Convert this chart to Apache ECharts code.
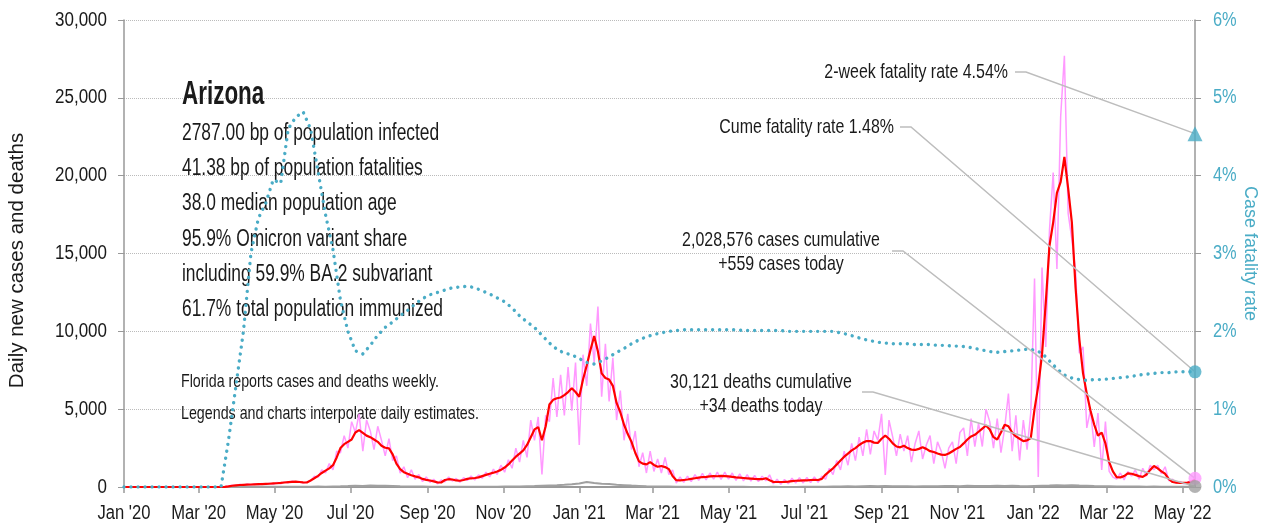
<!DOCTYPE html>
<html>
<head>
<meta charset="utf-8">
<title>Arizona</title>
<script src="https://cdn.jsdelivr.net/npm/echarts@6/dist/echarts.min.js"></script>
<style>
html, body { margin: 0; padding: 0; background: #fff; }
#chart { width: 1268px; height: 527px; }
</style>
</head>
<body>
<div id="chart"></div>
<script>
var FONT = '"Liberation Sans", Arial, sans-serif';
var TEAL = '#4aacc6';
var PINK = '#ff99ff';
var GREY = '#a0a0a0';
var INK = '#1a1a1a';

// x axis, tick every two months
var tickDates = ['2020-01-01', '2020-03-01', '2020-05-01', '2020-07-01', '2020-09-01', '2020-11-01',
    '2021-01-01', '2021-03-01', '2021-05-01', '2021-07-01', '2021-09-01', '2021-11-01',
    '2022-01-01', '2022-03-01', '2022-05-01'];
var monthNames = ['Jan', 'Feb', 'Mar', 'Apr', 'May', 'Jun', 'Jul', 'Aug', 'Sep', 'Oct', 'Nov', 'Dec'];
var caseTicks = [0, 5000, 10000, 15000, 20000, 25000, 30000];
var rateTicks = [0, 1, 2, 3, 4, 5, 6];

var firstDate = '2020-01-01';
var lastDate = '2022-05-11';

// daily new cases, one reading every 3 days from firstDate
var rawCases = [
    0, 0, 0, 0, 0, 0, 0, 0, 0, 0, 0, 0, 0, 0, 0, 0, 0, 0, 0, 0, 0, 0, 0, 0, 0, 0, 0,
    20, 60, 110, 90, 170, 120, 190, 130, 210, 150, 230, 160, 250, 170, 290, 210, 330, 260, 380, 300, 360, 250, 330,
    380, 700, 620, 1100, 900, 1500, 1100, 2300, 2200, 3300,
    2500, 4200, 3500, 4700, 2300, 4300, 3600, 2400, 3900, 3000,
    2000, 3100, 1700, 2000, 900, 1300, 600, 1100, 500, 800,
    350, 650, 300, 500, 200, 450, 330, 650, 380, 550,
    300, 600, 420, 700, 450, 780, 560, 950, 650, 1150,
    800, 1400, 950, 1750, 1200, 2500, 1600, 3000, 1900, 4300,
    3000, 4500, 800, 4600, 4200, 7000, 4500, 7200, 4600, 7700,
    4900, 8000, 2700, 8500, 6500, 10500, 8000, 11600, 5800, 9200,
    5500, 8300, 4300, 6200, 3000, 4700, 2400, 3600, 1300, 2200,
    900, 2300, 1000, 1800, 900, 1900, 800, 1100, 250, 650,
    300, 700, 350, 800, 420, 880, 450, 900, 500, 950,
    480, 950, 500, 900, 420, 850, 400, 800, 380, 750,
    350, 700, 400, 780, 200, 500, 180, 480, 200, 560,
    250, 600, 260, 620, 280, 650, 300, 700, 500, 1200,
    800, 1700, 1100, 2300, 1400, 2800, 1700, 3200, 2000, 3700,
    2100, 3600, 3000, 4700, 770, 4300, 3200, 2000, 3400, 2300,
    3300, 1600, 2800, 3600, 1800, 2700, 3300, 1500, 2900, 2300,
    1200, 2500, 2900, 1500, 3500, 3800, 2000, 4400, 2600, 4100,
    2600, 5000, 4200, 2500, 4400, 2200, 3800, 6000, 2300, 4600,
    1700, 4300, 2400, 4800, 13400, 640, 14100, 9000, 16500, 20200,
    14000, 23800, 27700, 17600, 15900, 13900, 8600, 9000, 3800, 4950,
    2570, 4750, 1090, 4200, 1000, 640, 500, 900, 450, 1000,
    700, 1100, 500, 1200, 700, 1400, 1100, 1400, 850, 1300,
    400, 500, 250, 350, 200, 300, 400, 559
];
// 7-day average of new cases, same dates
var avgCases = [
    0, 0, 0, 0, 0, 0, 0, 0, 0, 0, 0, 0, 0, 0, 0, 0, 0, 0, 0, 0, 0, 0, 0, 0, 0, 0, 0,
    10, 40, 80, 110, 130, 140, 150, 160, 170, 180, 190, 200, 210, 230, 240, 260, 290, 310, 330, 340, 320, 300, 290,
    420, 560, 720, 900, 1050, 1200, 1400, 1900, 2500, 2750,
    2900, 3050, 3500, 3650, 3480, 3300, 3200, 3050, 2900, 2650,
    2520, 2480, 2100, 1500, 1150, 950, 850, 760, 680, 620,
    520, 460, 420, 360, 300, 290, 450, 500, 480, 420,
    400, 450, 520, 560, 580, 620, 700, 780, 850, 920,
    1000, 1100, 1250, 1450, 1700, 1950, 2150, 2350, 2700, 3200,
    3700, 3850, 3000, 3900, 5300, 5600, 5700, 5750, 5900, 6100,
    6350, 6100, 5800, 6900, 7800, 8800, 9700, 8700, 7300, 7000,
    6900, 6500, 5400, 4800, 4000, 3400, 2900, 2200, 1650, 1500,
    1450, 1600, 1420, 1300, 1350, 1280, 1150, 700, 440, 420,
    450, 480, 520, 560, 600, 640, 650, 680, 700, 690,
    710, 700, 680, 650, 620, 600, 580, 560, 540, 520,
    510, 500, 560, 430, 330, 320, 320, 330, 350, 380,
    400, 410, 420, 430, 450, 460, 450, 520, 800, 1000,
    1200, 1450, 1700, 1950, 2150, 2350, 2500, 2700, 2850, 2950,
    2950, 2850, 2830, 3100, 3300, 3100, 2800, 2600, 2550, 2650,
    2500, 2400, 2380, 2450, 2550, 2450, 2300, 2250, 2150, 2080,
    2060, 2150, 2300, 2450, 2570, 2800, 3050, 3250, 3350, 3550,
    3750, 3950, 3700, 3200, 3050, 3500, 4000, 3900, 3500, 3250,
    3100, 2950, 3000, 3150, 5000, 6500, 8500, 11800, 15500, 17000,
    18900, 19600, 21200, 19200, 17000, 12800, 9500, 7300, 6000, 4900,
    4000, 3300, 3500, 2800, 1600, 1000, 640, 620, 700, 880,
    850, 780, 700, 650, 800, 1100, 1350, 1200, 1000, 850,
    500, 320, 280, 270, 260, 280, 330, 450
];
// daily deaths, one reading every 6 days
var deaths = [
    0, 0, 0, 0, 0, 0, 0, 0, 0, 0,
    0, 0, 0, 2, 5, 8, 12, 10, 15, 18,
    14, 20, 16, 22, 18, 20, 25, 22, 35, 45,
    60, 85, 70, 95, 80, 75, 60, 45, 35, 30,
    25, 18, 20, 12, 15, 10, 14, 9, 15, 18,
    20, 28, 35, 40, 50, 60, 80, 95, 110, 140,
    180, 230, 320, 250, 210, 190, 150, 120, 90, 70,
    50, 40, 30, 25, 20, 15, 12, 14, 10, 12,
    10, 13, 9, 11, 8, 8, 7, 9, 6, 8,
    7, 9, 10, 15, 20, 28, 35, 45, 40, 55,
    60, 50, 65, 55, 45, 50, 40, 55, 45, 50,
    60, 70, 55, 75, 65, 70, 60, 80, 65, 75,
    60, 50, 70, 85, 95, 110, 100, 120, 90, 80,
    60, 50, 45, 40, 30, 25, 30, 20, 25, 18,
    22, 15, 18, 20
];
// case fatality rate in %, every 6 days
var fatalityRate = [
    0, 0, 0, 0, 0, 0, 0, 0, 0, 0, 0, 0, 0, 0,
    0.6, 1.3, 2.0, 3.0, 3.45, 3.65,
    3.95, 3.9, 4.6, 4.75, 4.82, 4.6, 4.05, 3.5, 3.05, 2.4,
    2.0, 1.75, 1.71, 1.82, 1.95, 2.05, 2.12, 2.2, 2.27, 2.35,
    2.42, 2.47, 2.5, 2.53, 2.56, 2.57, 2.58, 2.56, 2.52, 2.48,
    2.43, 2.38, 2.3, 2.2, 2.12, 2.05, 1.95, 1.85, 1.77, 1.72,
    1.7, 1.65, 1.6, 1.58, 1.62, 1.67, 1.73, 1.78, 1.84, 1.89,
    1.93, 1.96, 1.98, 2.0, 2.01, 2.02, 2.02, 2.02, 2.02, 2.02,
    2.02, 2.02, 2.02, 2.01, 2.01, 2.01, 2.01, 2.01, 2.01, 2.0,
    2.0, 2.0, 2.0, 2.0, 2.0, 2.0, 1.98, 1.96, 1.93, 1.9,
    1.88, 1.86, 1.85, 1.84, 1.84, 1.84, 1.83, 1.83, 1.83, 1.82,
    1.82, 1.81, 1.81, 1.8, 1.78, 1.76, 1.74, 1.73, 1.74, 1.75,
    1.76, 1.77, 1.76, 1.72, 1.62, 1.52, 1.44, 1.40, 1.38, 1.37,
    1.38, 1.38, 1.39, 1.40, 1.41, 1.42, 1.44, 1.45, 1.46, 1.47,
    1.47, 1.48, 1.48, 1.48
];

var todayCases = 559;
var todayDeaths = 34;
var cumeRate = 1.48;
var twoWeekRate = 4.54;

var infoLines = [
    '2787.00 bp of population infected',
    '41.38 bp of population fatalities',
    '38.0 median population age',
    '95.9% Omicron variant share',
    'including 59.9% BA.2 subvariant',
    '61.7% total population immunized'
];
var noteLines = [
    'Florida reports cases and deaths weekly.',
    'Legends and charts interpolate daily estimates.'
];

function toTime(s) {
    var p = s.split('-');
    return new Date(+p[0], +p[1] - 1, +p[2]).getTime();
}
// pair values with dates, one every `step` days from firstDate
function stepped(values, step) {
    var p = firstDate.split('-');
    return values.map(function (v, i) {
        return [new Date(+p[0], +p[1] - 1, +p[2] + i * step).getTime(), v];
    });
}
function monthLabel(t) {
    var d = new Date(t);
    return monthNames[d.getMonth()] + " '" + String(d.getFullYear()).slice(2);
}

var tEnd = toTime(lastDate);
var tickTimes = tickDates.map(toTime);

var chart = echarts.init(document.getElementById('chart'));

var option = {
    animation: false,
    textStyle: { fontFamily: FONT },
    grid: { left: 124, right: 73, top: 20, bottom: 40, containLabel: false, outerBoundsMode: 'none' },
    xAxis: {
        // dates as milliseconds on a value axis, ticks placed on month starts
        type: 'value',
        min: toTime(firstDate),
        max: tEnd,
        axisLine: { lineStyle: { color: '#999', width: 2 } },
        axisTick: { show: true, length: 6, customValues: tickTimes, lineStyle: { color: '#999', width: 1.5 } },
        axisLabel: { show: false },
        splitLine: { show: false }
    },
    yAxis: [{
        type: 'value',
        min: 0, max: 30000, interval: 5000,
        name: 'Daily new cases and deaths',
        nameLocation: 'middle', nameGap: 96,
        nameTextStyle: { fontSize: 20.5, color: INK, fontFamily: FONT, padding: [0, 14, 0, 0] },
        axisLine: { show: true, lineStyle: { color: '#999', width: 1.5 } },
        axisTick: { show: true, length: 6, lineStyle: { color: '#999' } },
        axisLabel: { show: false },
        splitLine: { lineStyle: { color: '#bbb', type: 'dotted', width: 1 } }
    }, {
        type: 'value',
        min: 0, max: 6, interval: 1,
        name: 'Case fatality rate',
        nameLocation: 'middle', nameGap: 46, nameRotate: -90,
        nameTextStyle: { fontSize: 18, color: TEAL, fontFamily: FONT },
        axisLine: { show: true, lineStyle: { color: '#999', width: 1.5 } },
        axisTick: { show: true, length: 6, lineStyle: { color: '#999' } },
        axisLabel: { show: false },
        splitLine: { show: false }
    }],
    series: [{
        name: 'Daily cases',
        type: 'line', showSymbol: false, z: 2,
        data: stepped(rawCases, 3),
        lineStyle: { color: PINK, width: 1.5 }
    }, {
        name: 'Deaths',
        type: 'line', showSymbol: false, z: 3,
        data: stepped(deaths, 6).concat([[tEnd, todayDeaths]]),
        lineStyle: { color: GREY, width: 2 }
    }, {
        name: '7-day average',
        type: 'line', showSymbol: false, z: 4,
        data: stepped(avgCases, 3),
        lineStyle: { color: '#ff0000', width: 2.2 }
    }, {
        name: 'Case fatality rate',
        type: 'line', showSymbol: false, z: 5, yAxisIndex: 1,
        data: stepped(fatalityRate, 6).concat([[tEnd, cumeRate]]),
        lineStyle: { color: TEAL, width: 3.4, type: [0.01, 7], cap: 'round' }
    }, {
        type: 'scatter', yAxisIndex: 1, z: 8, clip: false,
        symbol: 'triangle', symbolSize: 15,
        itemStyle: { color: TEAL },
        data: [[tEnd, twoWeekRate]]
    }, {
        type: 'scatter', yAxisIndex: 1, z: 8, clip: false,
        symbolSize: 13, itemStyle: { color: TEAL },
        data: [[tEnd, cumeRate]]
    }, {
        type: 'scatter', z: 8, clip: false,
        symbolSize: 13, itemStyle: { color: PINK },
        data: [[tEnd, todayCases]]
    }, {
        type: 'scatter', z: 8, clip: false,
        symbolSize: 13, itemStyle: { color: GREY },
        data: [[tEnd, todayDeaths]]
    }]
};
chart.setOption(option);

// condensed text: Liberation Sans squeezed horizontally
function label(text, x, y, size, align, squeeze, color, weight) {
    return {
        type: 'text', x: x, y: y, z: 1, scaleX: squeeze,
        style: {
            text: text, fill: color || INK, fontSize: size, fontFamily: FONT,
            fontWeight: weight || 'normal', align: align, verticalAlign: 'middle'
        }
    };
}
function leader(x0, y0, target) {
    return {
        type: 'polyline', z: 6, silent: true,
        shape: { points: [[x0, y0], [x0 + 11, y0], target] },
        style: { stroke: '#bdbdbd', lineWidth: 1.5, fill: null }
    };
}
function px(t, v, yi) {
    return chart.convertToPixel({ xAxisIndex: 0, yAxisIndex: yi }, [t, v]);
}

var g = [];
// tick labels placed through the axes
tickTimes.forEach(function (t) {
    var p = px(t, 0, 0);
    g.push(label(monthLabel(t), p[0], p[1] + 26, 20, 'center', 0.83));
});
caseTicks.forEach(function (v) {
    var p = px(toTime(firstDate), v, 0);
    g.push(label(v.toLocaleString('en-US'), p[0] - 17, p[1], 20, 'right', 0.85));
});
rateTicks.forEach(function (v) {
    var p = px(tEnd, v, 1);
    g.push(label(v + '%', p[0] + 18, p[1], 20, 'left', 0.82, TEAL));
});

g.push(label('Arizona', 182, 95, 33, 'left', 0.68, INK, 'bold'));
infoLines.forEach(function (t, i) { g.push(label(t, 182, 133.5 + i * 35.2, 23.5, 'left', 0.74)); });
noteLines.forEach(function (t, i) { g.push(label(t, 181, 382 + i * 32, 19, 'left', 0.75)); });

g.push(label('2-week fatality rate 4.54%', 1008, 72, 21, 'right', 0.76));
g.push(label('Cume fatality rate 1.48%', 894, 127, 21, 'right', 0.76));
g.push(label('2,028,576 cases cumulative', 781, 240, 21, 'center', 0.76));
g.push(label('+559 cases today', 781, 264, 21, 'center', 0.76));
g.push(label('30,121 deaths cumulative', 761, 382, 21, 'center', 0.76));
g.push(label('+34 deaths today', 761, 406, 21, 'center', 0.76));

g.push(leader(1015, 72, px(tEnd, twoWeekRate, 1)));
g.push(leader(900, 127, px(tEnd, cumeRate, 1)));
g.push(leader(892, 251, px(tEnd, todayCases, 0)));
g.push(leader(862, 392, px(tEnd, todayDeaths, 0)));

chart.setOption({ graphic: g });
</script>
</body>
</html>
